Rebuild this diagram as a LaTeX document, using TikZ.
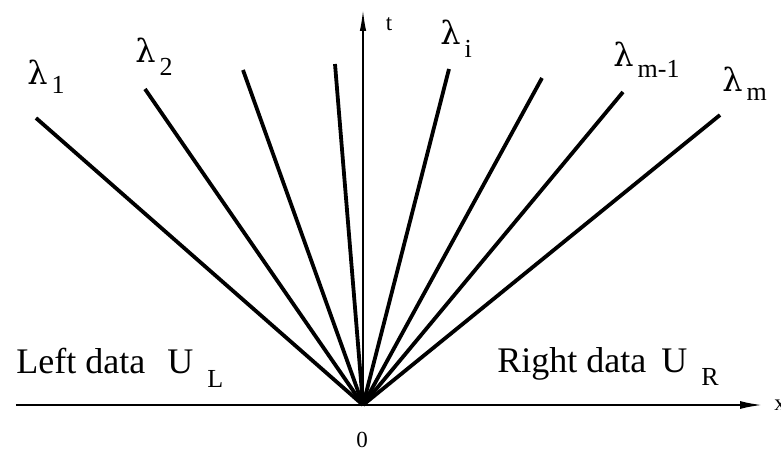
\documentclass[tikz,border=0pt]{standalone}
\usepackage{fontspec}
\setmainfont{Liberation Serif}
\newfontfamily\greekfont{DejaVu Serif}
\usetikzlibrary{arrows.meta}

% eigenvalue label: lambda with a lowered roman index
\newcommand{\lam}[2][4pt]{{\greekfont\fontsize{16}{18}\selectfont λ}\hspace{2pt}\raisebox{-#1}{\fontsize{13}{13}\selectfont #2}}
\newcommand{\idx}[2][7pt]{\hspace{7pt}\raisebox{-#1}{\fontsize{13}{13}\selectfont #2}}

\begin{document}
\begin{tikzpicture}[x=0.5pt,y=0.5pt,font=\fontsize{18}{20}\selectfont,
    wave/.style={line width=1.9pt},
    axis/.style={line width=0.9pt},
    lbl/.style={inner sep=0pt,anchor=base west}]
    \useasboundingbox (-363,-46) rectangle (418,405);

    \coordinate (O) at (0,0);

    % axes
    \draw[axis,-{Latex[length=11pt,width=4pt]}] (-347,0) -- (399,0);
    \draw[axis,-{Latex[length=11pt,width=3.2pt]}] (O) -- (0,396);
    \node[inner sep=0pt,anchor=west,font=\fontsize{11.5}{12}\selectfont] (xlab) at (411,0) {x};
    \node[inner sep=0pt,font=\fontsize{11.5}{12}\selectfont] (tlab) at (26,381) {t};
    \node[inner sep=0pt,font=\fontsize{11.5}{12}\selectfont] (zero) at (-1,-35) {0};

    % waves
    \coordinate (w1) at (-327,287);
    \coordinate (w2) at (-218,316);
    \coordinate (w3) at (-120,335);
    \coordinate (w4) at (-28,341);
    \coordinate (w5) at (86,336);
    \coordinate (w6) at (179,327);
    \coordinate (w7) at (260,313);
    \coordinate (w8) at (357,290);
    \foreach \w in {w1,w2,w3,w4,w5,w6,w7,w8}
        \draw[wave] (O) -- (\w);

    \node[lbl] (l1) at (-336,320) {\lam{1}};
    \node[lbl] (l2) at (-228,342) {\lam[6pt]{2}};
    \node[lbl] (li) at (77,360) {\lam[6.5pt]{i}};
    \node[lbl] (lm1) at (250,338) {\lam[5.5pt]{m-1}};
    \node[lbl] (lm) at (359,313) {\lam{m}};

    % states on both sides
    \node[lbl] (left) at (-347,32) {Left data\hspace{11pt}U\idx{L}};
    \node[lbl] (right) at (134,33) {Right data\hspace{7.5pt}U\idx[6.5pt]{R}};
\end{tikzpicture}
\end{document}
